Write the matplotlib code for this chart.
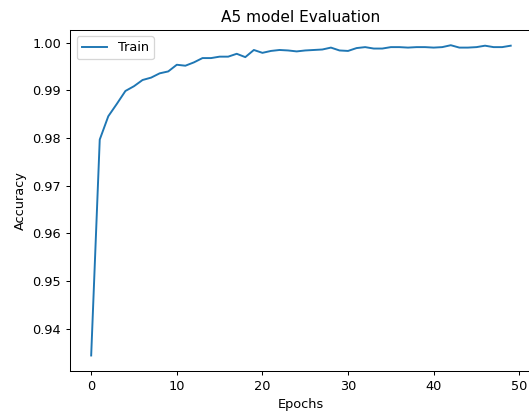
import matplotlib
matplotlib.use("Agg")
import matplotlib.pyplot as plt

# training accuracy per epoch
epochs = list(range(50))
train_acc = [0.9344, 0.9797, 0.9846, 0.9872, 0.9899, 0.9909, 0.9922, 0.9927, 0.9936, 0.9940,
             0.9954, 0.9952, 0.9959, 0.9968, 0.9968, 0.9971, 0.9971, 0.9977, 0.9970, 0.9985,
             0.9979, 0.9983, 0.9985, 0.9984, 0.9982, 0.9984, 0.9985, 0.9986, 0.9990, 0.9984,
             0.9983, 0.9989, 0.9991, 0.9988, 0.9988, 0.9991, 0.9991, 0.9990, 0.9991, 0.9991,
             0.9990, 0.9991, 0.9995, 0.9990, 0.9990, 0.9991, 0.9994, 0.9991, 0.9991, 0.9994]

DPI = 92.3
fig = plt.figure(figsize=(529 / DPI, 414 / DPI), dpi=DPI)
# right edge of the axes sits just past the image border (cropped in the reference)
ax = fig.add_axes([70.2 / 529, 43 / 414, 461.5 / 529, 341.3 / 414])

ax.plot(epochs, train_acc, label="Train")
ax.set_title("A5 model Evaluation")
ax.set_xlabel("Epochs")
ax.set_ylabel("Accuracy")
ax.legend(loc="upper left")

fig.savefig("out.png", dpi=DPI)
